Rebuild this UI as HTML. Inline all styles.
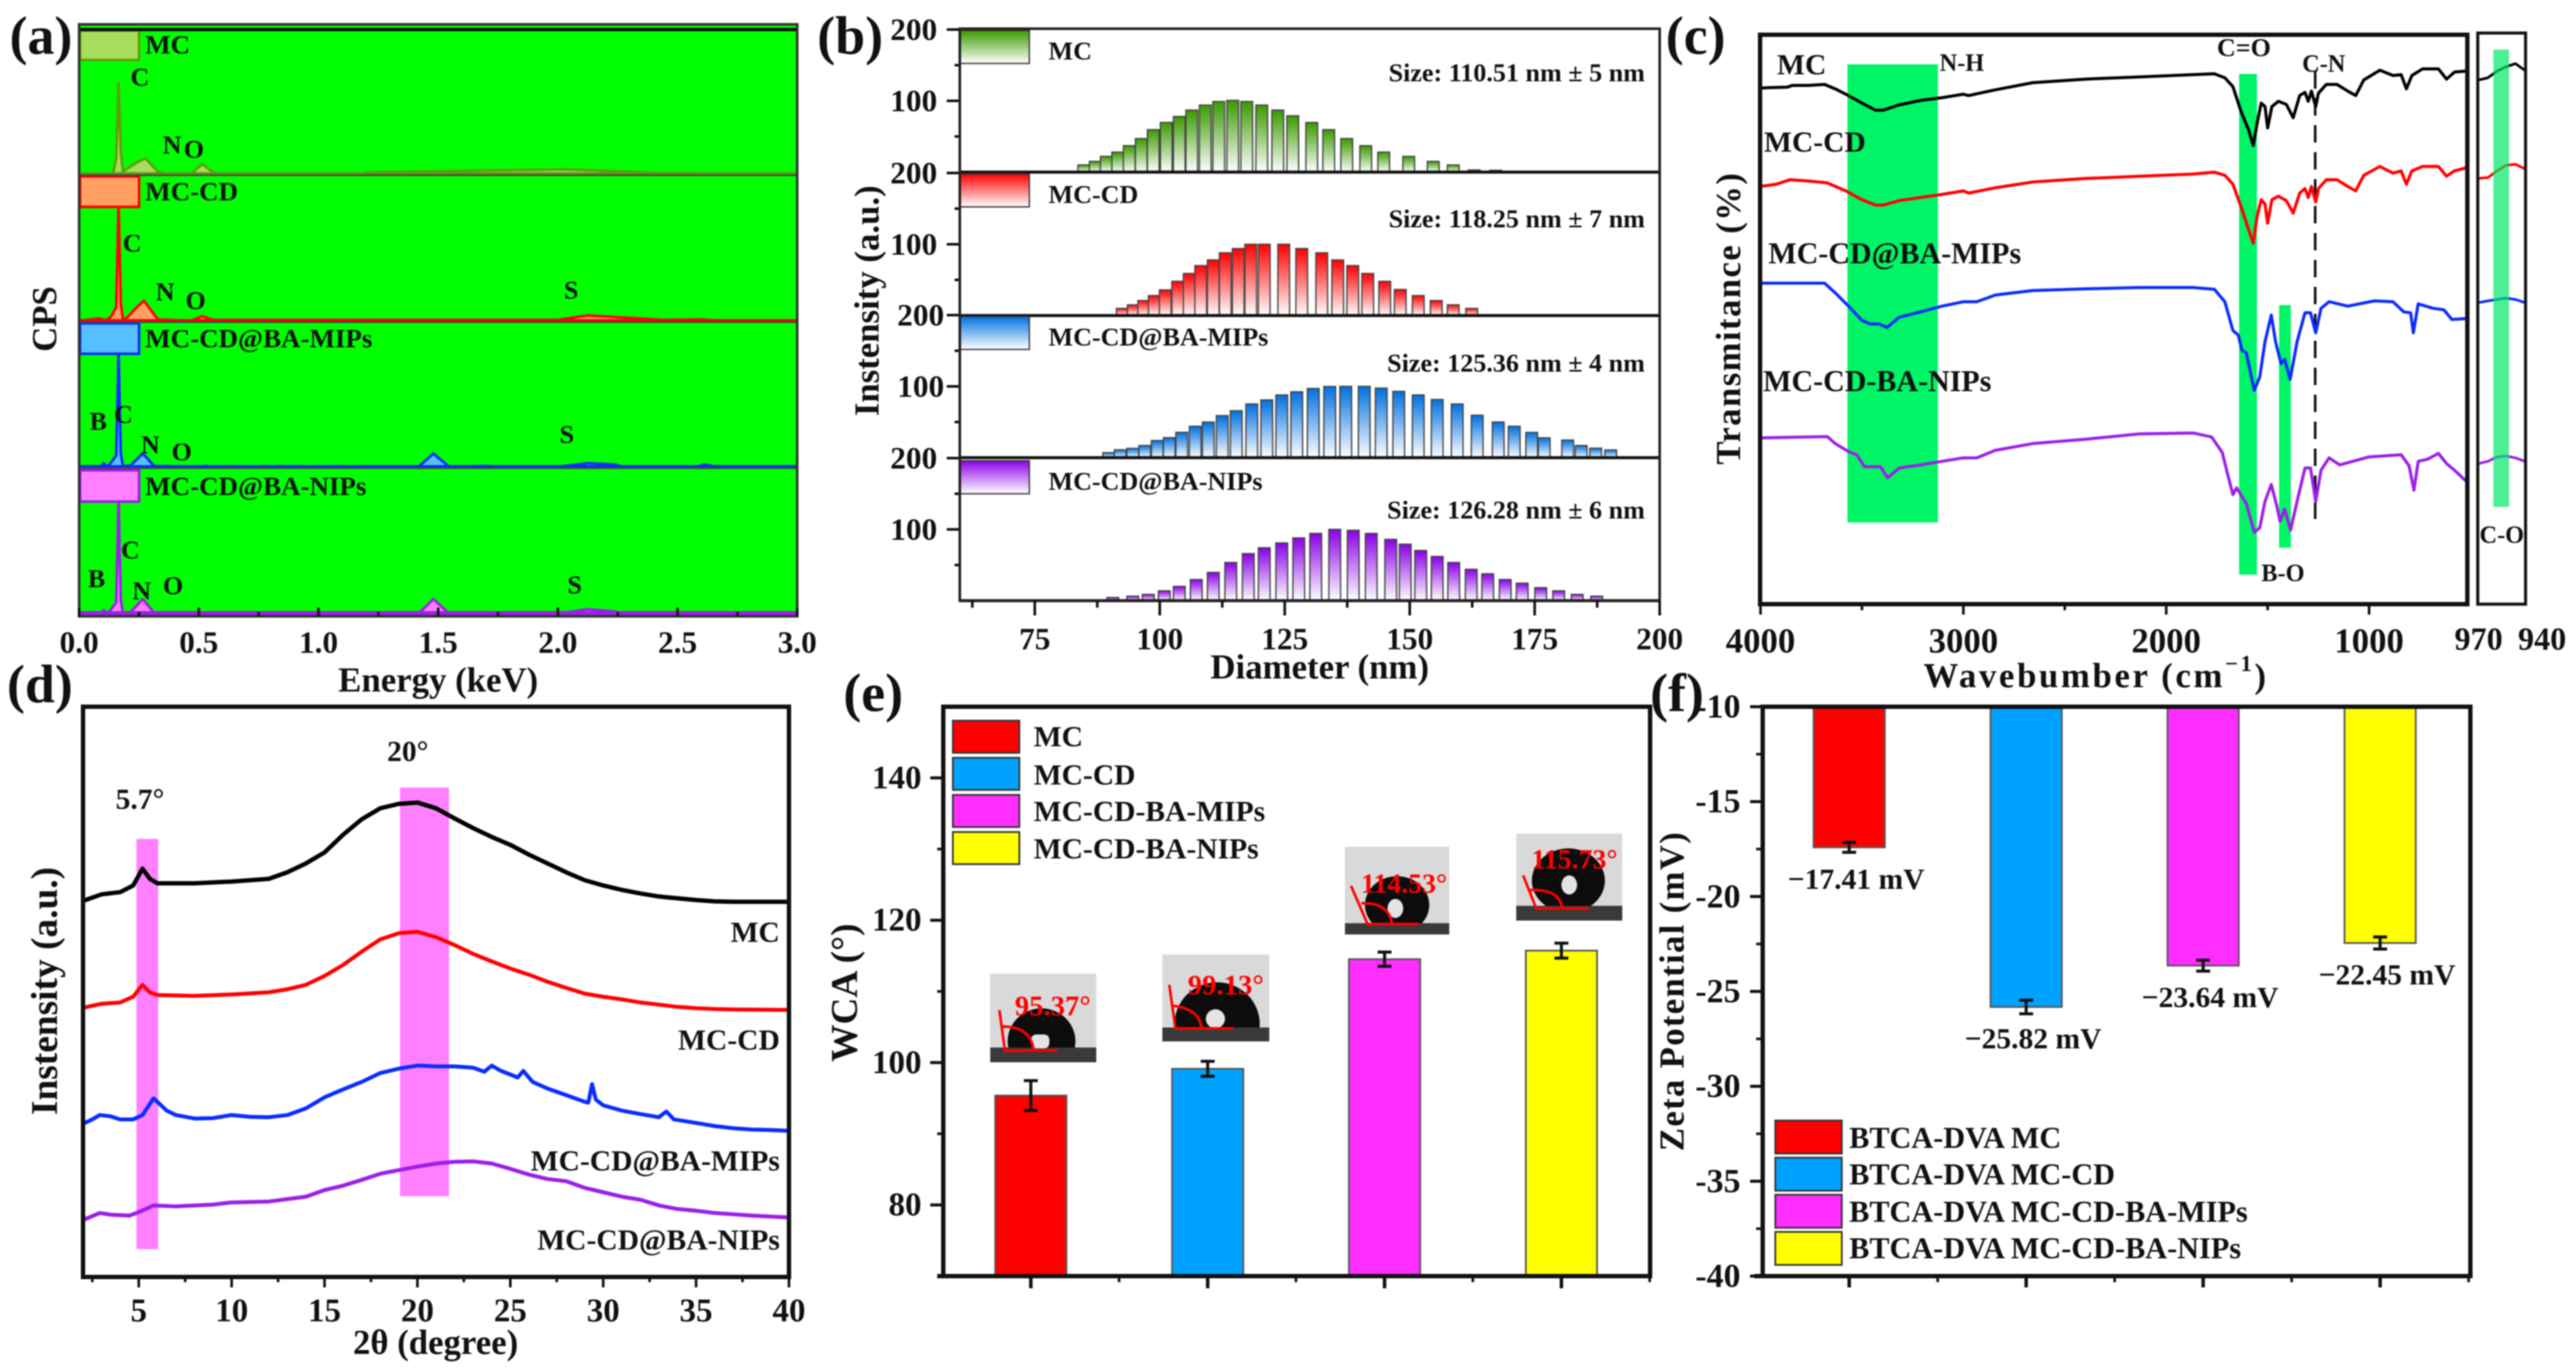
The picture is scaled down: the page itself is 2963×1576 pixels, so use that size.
<!DOCTYPE html>
<html lang="en">
<head>
<meta charset="utf-8">
<title>Six-panel characterization figure</title>
<style>
html,body{margin:0;padding:0;background:#fff;}
svg{display:block;filter:blur(0.7px);}
text{font-family:"Liberation Serif","Noto Serif CJK SC",serif;font-weight:bold;fill:#111;dominant-baseline:central;}
.pl{font-size:62px;dominant-baseline:alphabetic;}
.s28{font-size:28px}.s30{font-size:30px}.s31{font-size:31px}.s32{font-size:32px}.s34{font-size:34px}.s345{font-size:34.5px}
.t40{font-size:40px}
.r{fill:#ff0000;font-size:33px;text-anchor:middle}
.m{text-anchor:middle}
.e{text-anchor:end}
</style>
</head>
<body>
<svg id="fig" xmlns="http://www.w3.org/2000/svg" width="2963" height="1576" viewBox="0 0 2963 1576">
<defs>
<linearGradient id="gGreen" x1="0" y1="0" x2="0" y2="1"><stop offset="0" stop-color="#3a9a00"/><stop offset="1" stop-color="#ffffff"/></linearGradient>
<linearGradient id="gRed" x1="0" y1="0" x2="0" y2="1"><stop offset="0" stop-color="#ff0000"/><stop offset="1" stop-color="#ffffff"/></linearGradient>
<linearGradient id="gBlue" x1="0" y1="0" x2="0" y2="1"><stop offset="0" stop-color="#0070e0"/><stop offset="1" stop-color="#ffffff"/></linearGradient>
<linearGradient id="gPurple" x1="0" y1="0" x2="0" y2="1"><stop offset="0" stop-color="#8a00e8"/><stop offset="1" stop-color="#ffffff"/></linearGradient>
<clipPath id="clipInset1"><rect x="1139" y="1120" width="122" height="102"/></clipPath>
<clipPath id="clipInset2"><rect x="1337" y="1098" width="123" height="100"/></clipPath>
<clipPath id="clipInset3"><rect x="1547" y="974" width="120" height="101"/></clipPath>
<clipPath id="clipInset4"><rect x="1744" y="959" width="122" height="100"/></clipPath>
</defs>
<rect width="2963" height="1576" fill="#fff"/>

<g id="panelA"></g>
<g id="panelB"></g>
<g id="panelC"></g>
<g id="panelD"></g>
<g id="panelE"></g>
<g id="panelF"></g>

<!-- panel letters -->
<text class="pl" x="11" y="62">(a)</text>
<text class="pl" x="940" y="62">(b)</text>
<text class="pl" x="1916" y="62">(c)</text>
<text class="pl" x="8" y="808">(d)</text>
<text class="pl" x="970" y="818">(e)</text>
<text class="pl" x="1898" y="818">(f)</text>

<!-- panel a text -->
<text class="t40 m" transform="rotate(-90 51 367)" x="51" y="367">CPS</text>
<text class="t40 m" x="504" y="782">Energy (keV)</text>
<text class="s31" x="167" y="51">MC</text>
<text class="s31" x="167" y="220">MC-CD</text>
<text class="s31" x="167" y="389">MC-CD@BA-MIPs</text>
<text class="s31" x="167" y="559">MC-CD@BA-NIPs</text>
<text class="s30 m" x="161" y="89">C</text>
<text class="s30 m" x="198" y="167">N</text>
<text class="s30 m" x="223" y="172">O</text>
<text class="s30 m" x="152" y="280">C</text>
<text class="s30 m" x="190" y="336">N</text>
<text class="s30 m" x="225" y="346">O</text>
<text class="s30 m" x="657" y="334">S</text>
<text class="s30 m" x="113" y="485">B</text>
<text class="s30 m" x="142" y="477">C</text>
<text class="s30 m" x="173" y="512">N</text>
<text class="s30 m" x="209" y="520">O</text>
<text class="s30 m" x="652" y="500">S</text>
<text class="s30 m" x="111" y="666">B</text>
<text class="s30 m" x="150" y="633">C</text>
<text class="s30 m" x="163" y="680">N</text>
<text class="s30 m" x="199" y="674">O</text>
<text class="s30 m" x="661" y="673">S</text>

<!-- panel b text -->
<text class="t40 m" transform="rotate(-90 997 346)" x="997" y="346">Instensity (a.u.)</text>
<text class="t40 m" x="1518" y="767">Diameter (nm)</text>
<text class="s30" x="1206" y="59">MC</text>
<text class="s30" x="1206" y="224">MC-CD</text>
<text class="s30" x="1206" y="388">MC-CD@BA-MIPs</text>
<text class="s30" x="1206" y="554">MC-CD@BA-NIPs</text>
<text class="s30 e" x="1892" y="84">Size: 110.51 nm ± 5 nm</text>
<text class="s30 e" x="1892" y="252">Size: 118.25 nm ± 7 nm</text>
<text class="s30 e" x="1892" y="418">Size: 125.36 nm ± 4 nm</text>
<text class="s30 e" x="1892" y="587">Size: 126.28 nm ± 6 nm</text>

<!-- panel c text -->
<text class="t40 m" transform="rotate(-90 1988 366)" x="1988" y="366" style="letter-spacing:1.6px">Transmitance (%)</text>
<text class="t40 m" x="2411" y="777" style="letter-spacing:3px">Wavebumber (cm<tspan dy="-14" font-size="26">−1</tspan><tspan dy="14">)</tspan></text>
<text class="s34" x="2044" y="75">MC</text>
<text class="s34" x="2029" y="164">MC-CD</text>
<text class="s345" x="2034" y="292">MC-CD@BA-MIPs</text>
<text class="s345" x="2028" y="439">MC-CD-BA-NIPs</text>
<text class="s28" x="2231" y="73">N-H</text>
<text class="s30" x="2550" y="55">C=O</text>
<text class="s28" x="2648" y="74">C-N</text>
<text class="s28" x="2601" y="660">B-O</text>
<text class="s28" x="2852" y="616">C-O</text>

<!-- panel d text -->
<text class="m" font-size="43" transform="rotate(-90 52 1140)" x="52" y="1140">Instensity (a.u.)</text>
<text class="t40 m" x="501" y="1544">2θ (degree)</text>
<text class="s34 m" x="161" y="920">5.7°</text>
<text class="s34 m" x="469" y="865">20°</text>
<text class="s34 e" x="897" y="1073">MC</text>
<text class="s34 e" x="897" y="1197">MC-CD</text>
<text class="s34 e" x="897" y="1336">MC-CD@BA-MIPs</text>
<text class="s34 e" x="897" y="1427">MC-CD@BA-NIPs</text>

<!-- panel e text -->
<text class="m" font-size="43" transform="rotate(-90 972 1142)" x="972" y="1142">WCA (°)</text>
<text class="s34" x="1189" y="848">MC</text>
<text class="s34" x="1189" y="892">MC-CD</text>
<text class="s34" x="1189" y="934">MC-CD-BA-MIPs</text>
<text class="s34" x="1189" y="977">MC-CD-BA-NIPs</text>

<!-- contact angle insets -->
<g>
<rect x="1139" y="1120" width="122" height="102" fill="#d9d9d9"/>
<ellipse cx="1198" cy="1198" rx="39" ry="38" fill="#0c0c0c" clip-path="url(#clipInset1)"/>
<rect x="1139" y="1205" width="122" height="17" fill="#3a3a3a"/>
<rect x="1186" y="1190" width="21" height="16" rx="6" fill="#e4e4e4"/>
<path d="M1149.500 1162 L1156 1209 L1216 1208 M1152 1181 Q1186 1180 1189 1209" fill="none" stroke="#ff0000" stroke-width="3"/>
<text class="r" x="1211" y="1158">95.37°</text>
</g>
<g>
<rect x="1337" y="1098" width="123" height="100" fill="#d9d9d9"/>
<ellipse cx="1400" cy="1178" rx="49" ry="48" fill="#0c0c0c" clip-path="url(#clipInset2)"/>
<rect x="1337" y="1182" width="123" height="16" fill="#3a3a3a"/>
<ellipse cx="1398" cy="1172" rx="11" ry="11" fill="#e4e4e4"/>
<path d="M1345 1133 L1352 1183 L1419 1183 M1348 1157 Q1380 1160 1382 1183" fill="none" stroke="#ff0000" stroke-width="3"/>
<text class="r" x="1410" y="1134">99.13°</text>
</g>
<g>
<rect x="1547" y="974" width="120" height="101" fill="#d9d9d9"/>
<ellipse cx="1607" cy="1041" rx="37" ry="33" fill="#0c0c0c" clip-path="url(#clipInset3)"/>
<rect x="1547" y="1062" width="120" height="13" fill="#3a3a3a"/>
<ellipse cx="1605" cy="1045" rx="9" ry="11" fill="#e4e4e4"/>
<path d="M1554 1019 L1573 1063 L1632 1063 M1566 1039 Q1598 1038 1601 1063" fill="none" stroke="#ff0000" stroke-width="3"/>
<text class="r" x="1615" y="1016" style="font-size:32px">114.53°</text>
</g>
<g>
<rect x="1744" y="959" width="122" height="100" fill="#d9d9d9"/>
<ellipse cx="1804" cy="1013" rx="42" ry="37" fill="#0c0c0c" clip-path="url(#clipInset4)"/>
<rect x="1744" y="1042" width="122" height="17" fill="#3a3a3a"/>
<ellipse cx="1805" cy="1018" rx="9" ry="11" fill="#e4e4e4"/>
<path d="M1752 1007 L1767 1045 L1828 1045 M1759 1024 Q1794 1022 1797 1045" fill="none" stroke="#ff0000" stroke-width="3"/>
<text class="r" x="1811" y="988" style="font-size:32px">115.73°</text>
</g>

<!-- panel f text -->
<text class="t40 m" transform="rotate(-90 1923 1140)" x="1923" y="1140" style="letter-spacing:1.5px">Zeta Potential (mV)</text>
<text x="2127" y="1309" style="font-size:34.8px">BTCA-DVA MC</text>
<text x="2127" y="1351" style="font-size:34.8px">BTCA-DVA MC-CD</text>
<text x="2127" y="1394" style="font-size:34.8px">BTCA-DVA MC-CD-BA-MIPs</text>
<text x="2127" y="1436" style="font-size:34.8px">BTCA-DVA MC-CD-BA-NIPs</text>
</svg>

<script>
/* ---------- panel a: EDS spectra ---------- */
const edsEnergyMC=[0,.132,.144,.155,.165,.174,.183,.202,.24,.276,.329,.364,.468,.514,.561,.595,1.175,1.2,1.638,2.032,2.287,2.4,3.0];
const edsCountsMC=[0,0,5,35,204,50,5,12,25,35,5,0,0,22,3,0,0,3,7,10,5,2,0];
const edsEnergyCD=[0,.086,.11,.132,.155,.165,.174,.183,.197,.24,.271,.329,.468,.514,.561,1.149,2.0,2.125,2.44,2.6,2.65,3];
const edsCountsCD=[0,5,1,8,30,258,40,4,5,30,45,3,0,10,2,2,2,12,2,3,1,0];
const edsEnergyMIP=[0,.09,.102,.12,.155,.165,.174,.183,.213,.266,.313,.5,.528,.56,1.418,1.48,1.546,1.7,1.75,2.0,2.125,2.24,2.27,2.58,2.61,2.66,3];
const edsCountsMIP=[0,0,8,0,25,258,30,2,2,30,2,0,2,0,0,30,0,2,0,0,8,5,0,0,5,0,0];
const edsCountsNIP=[0,0,8,0,25,255,30,2,2,33,2,0,1,0,0,33,0,0,0,0,10,5,0,0,4,0,0];
const edsTicks=[0,0.5,1.0,1.5,2.0,2.5,3.0];
const edsTickLabels=["0.0","0.5","1.0","1.5","2.0","2.5","3.0"];
const edsMinorTicks=[0.25,0.75,1.25,1.75,2.25,2.75];

/* ---------- panel b: size distributions ---------- */
const sizeDiameterMC=[84.8,87.1,89.3,91.6,93.9,96.3,98.7,101.3,103.9,106.4,109.1,111.8,114.6,117.4,120.4,123.6,126.6,130.4,133.8,137.4,141.2,144.8,149.8,154.7,158.7,162.9,167.2];
const sizeValueMC=[10,15,22,28,37,47,59.5,69.6,78,87,94,99,100.6,99,94,87,79,69.6,59.5,47,37,28,22,15,10,3,2.5];
const sizeDiameterCD=[92.5,94.7,96.8,98.9,101.1,103.6,105.9,108.2,110.7,113.1,115.7,118.2,120.9,124.8,128.4,132.4,135.6,138.6,141.6,145.0,148.1,151.7,155.3,158.7,162.4];
const sizeValueCD=[10,15,21,28,36,48,59,70,78,88,94,100,100,100,94,88,78,70,59,48,36.5,28,21,15,10];
const sizeDiameterMIP=[89.8,92.1,94.6,97.0,99.5,101.9,104.4,107.1,109.7,112.5,115.3,118.4,121.4,124.4,127.4,130.7,134.0,137.2,140.9,144.3,147.8,151.7,155.5,159.5,163.5,167.7,170.9,174.4,176.9,181.6,184.3,187.2,190.2];
const sizeValueMIP=[7,11,13,17,24,28,35.5,44,50,59,65.8,75.3,81,88,92.4,97,99.8,100,100,97.5,93,88,81.6,75.3,59.5,50,44,35.4,27.8,24.7,17,13.3,10.8];
const sizeDiameterNIP=[90.6,94.6,97.7,100.9,103.9,107.3,110.7,114.2,117.7,120.9,124.4,127.8,131.2,135.0,138.7,142.3,146.2,149.1,152.2,155.5,158.8,162.3,165.6,169.1,172.5,176.2,179.8,183.5,187.4];
const sizeValueNIP=[4.4,6.3,8.8,13.8,20,29.6,39.6,53.5,66,74.2,81,88,94.3,100,98.7,94.3,86,79.2,70.4,62,53.5,44,37.7,29.6,24.5,18.2,13.8,8.8,6.3];
const sizeXTicks=[75,100,125,150,175,200];
const sizeXMinor=[62.5,87.5,112.5,137.5,162.5,187.5];
const sizeYTicks=[200,100];
const sizeYMinor=[150,50];

/* ---------- panel c: FTIR ---------- */
const ftirWaveMC=[4000,3868,3842,3763,3684,3632,3579,3500,3434,3395,3316,3211,3105,3000,2974,2842,2658,2395,2132,1868,1763,1711,1671,1632,1592,1571,1553,1532,1513,1500,1479,1447,1408,1374,1342,1316,1300,1284,1263,1250,1211,1158,1105,1066,1026,947,882,842,816,789,737,658,618,579,521];
const ftirValueMC=[1164,1166,1170,1170,1172,1162,1150,1130,1114,1114,1126,1136,1142,1150,1147,1160,1176,1184,1189,1194,1196,1187,1167,1112,1067,1034,1082,1130,1122,1074,1122,1134,1127,1097,1147,1154,1134,1157,1122,1152,1172,1172,1157,1147,1182,1204,1192,1194,1162,1192,1207,1207,1184,1200,1202];
const ftirWaveCD=[4000,3921,3855,3763,3671,3579,3500,3434,3395,3316,3211,3105,3000,2974,2842,2658,2395,2132,1868,1763,1711,1671,1632,1592,1571,1553,1532,1513,1500,1479,1447,1408,1374,1342,1316,1300,1284,1263,1250,1211,1158,1105,1066,1026,947,882,842,816,789,737,658,618,579,521];
const ftirValueCD=[942,947,957,954,950,932,912,900,900,910,917,924,932,927,939,952,960,965,970,974,967,947,897,842,814,872,912,902,859,912,920,910,882,927,937,917,942,907,937,957,957,942,932,967,987,972,977,947,977,987,987,965,977,984];
const ftirWaveMIP=[4000,3684,3632,3566,3500,3461,3416,3376,3316,3211,3105,3000,2934,2842,2658,2395,2132,1868,1763,1711,1671,1645,1626,1605,1566,1539,1513,1482,1461,1434,1416,1389,1355,1316,1289,1263,1237,1197,1105,974,882,829,795,782,758,684,632,592,521];
const ftirValueMIP=[724,724,702,672,640,632,632,624,647,659,672,682,682,697,707,711,714,714,710,682,617,607,572,567,482,512,592,652,592,542,552,507,592,657,657,612,667,682,672,684,682,659,657,612,677,667,664,642,644];
const ftirWaveNIP=[4000,3671,3632,3566,3526,3487,3408,3374,3316,3211,3105,3000,2934,2842,2658,2395,2132,1868,1776,1724,1697,1671,1653,1626,1605,1566,1539,1513,1482,1455,1439,1416,1387,1355,1316,1289,1263,1237,1197,1145,1000,842,803,779,758,711,658,618,579,521];
const ftirValueNIP=[375,378,362,344,337,310,310,285,307,314,322,330,330,347,362,372,384,386,377,342,292,247,262,242,227,162,172,232,270,222,187,214,167,232,307,307,232,302,330,314,332,337,312,257,322,327,340,317,302,277];
const ftirTicks=[4000,3000,2000,1000];
const ftirMinor=[3500,2500,1500];
const boxWave=[970,964,958,952,946,940];
const boxValueMC=[1182,1187,1202,1212,1219,1204];
const boxValueCD=[960,962,977,990,992,982];
const boxValueMIP=[680,684,687,690,687,680];
const boxValueNIP=[317,322,332,334,330,322];

/* ---------- panel d: XRD ---------- */
const xrdAngleMC=[2,3,4,4.7,5.2,5.6,6,8,10,12,13,14,15,16,17,18,19,20,21,22,23,24,25,26,27,28,29,30,31,32,33,34,35,36,37,40];
const xrdValueMC=[852,867,872,887,925,902,892,892,896,902,917,937,962,1002,1037,1062,1072,1075,1062,1039,1017,997,979,957,937,917,899,887,877,869,862,858,854,851,850,850];
const xrdValueCD=[610,619,622,635,662,645,639,637,640,645,652,662,682,707,737,765,779,782,770,752,732,715,699,685,669,655,642,635,629,622,617,612,609,607,606,605];
const xrdAngleMIP=[2,2.5,2.9,3.5,4,4.7,5.2,5.8,6.5,7,8,9,10,11,12,13,14,15,16,17,18,19,20,21,22,23,23.6,24,24.5,25.4,25.7,26.2,27,28,29,29.2,29.4,29.6,30,31,32,33,33.4,33.8,35,36,37,38,39,40];
const xrdValueMIP=[347,357,367,364,357,357,367,405,377,367,359,360,367,363,362,367,382,407,425,442,462,472,479,477,477,474,465,479,467,452,467,442,427,412,397,395,437,402,389,377,369,362,375,357,349,342,337,334,333,331];
const xrdAngleNIP=[2,2.9,3.5,4.5,5,5.8,7,9,10,12,14,15,16,17,18,19,20,21,22,23,24,25,26,27,28,29,30,31,32,33,34,35,36,38,40];
const xrdValueNIP=[129,145,141,139,147,162,160,164,169,171,182,197,207,220,234,242,250,257,261,262,257,245,232,222,217,202,192,182,175,162,154,150,145,139,135];
const xrdTicks=[5,10,15,20,25,30,35,40];
const xrdMinor=[2.5,7.5,12.5,17.5,22.5,27.5,32.5,37.5];

/* ---------- panel e: water contact angle ---------- */
const wcaCategories=["MC","MC-CD","MC-CD-BA-MIPs","MC-CD-BA-NIPs"];
const wcaValues=[95.37,99.13,114.53,115.73];
const wcaErrors=[2.1,1.05,1,1.05];
const wcaTicks=[80,100,120,140];
const wcaMinor=[90,110,130];

/* ---------- panel f: zeta potential ---------- */
const zetaCategories=["BTCA-DVA MC","BTCA-DVA MC-CD","BTCA-DVA MC-CD-BA-MIPs","BTCA-DVA MC-CD-BA-NIPs"];
const zetaValues=[-17.41,-25.82,-23.64,-22.45];
const zetaErrors=[0.26,0.36,0.29,0.32];
const zetaTicks=[-10,-15,-20,-25,-30,-35,-40];
const zetaMinor=[-12.5,-17.5,-22.5,-27.5,-32.5,-37.5];

const barColors=["#ff0000","#00a2ff","#ff2dff","#ffff00"];
const NS="http://www.w3.org/2000/svg";

function linear(d0,d1,r0,r1){return v=>r0+(v-d0)/(d1-d0)*(r1-r0);}
function mk(tag,attrs,parent){
  const el=document.createElementNS(NS,tag);
  for(const k in attrs){el.setAttribute(k,attrs[k]);}
  parent.appendChild(el);
  return el;
}
function named(el,name){
  
  
  return el;
}
function tick(parent,x1,y1,x2,y2,w,name){
  return named(mk('line',{x1:x1,y1:y1,x2:x2,y2:y2,stroke:'#111','stroke-width':w},parent),name);
}
function label(parent,x,y,str,anchor,size,name){
  const t=mk('text',{x:x,y:y,'text-anchor':anchor,'font-size':size},parent);
  t.textContent=str;
  return named(t,name);
}
function box(parent,x,y,w,h,fill,stroke,sw,name){
  return named(mk('rect',{x:x,y:y,width:w,height:h,fill:fill,stroke:stroke,'stroke-width':sw},parent),name);
}
function pathOf(xs,ys,sx,sy){
  return xs.map((v,i)=>(i?'L':'M')+sx(v).toFixed(1)+' '+sy(ys[i]).toFixed(1)).join(' ');
}

/* ===== panel a ===== */
(function(){
  const g=document.getElementById('panelA');
  const sx=linear(0,3,91,917);
  box(g,91,28,826,681,'#00ff00','none',0,'plot-background-a');
  const series=[
    {n:'mc',e:edsEnergyMC,c:edsCountsMC,base:200,line:'#5f9e0a',fill:'#a6dd5c',ly:35,lh:34,bw:4},
    {n:'mc-cd',e:edsEnergyCD,c:edsCountsCD,base:369,line:'#ff0000',fill:'#ffa060',ly:203,lh:35,bw:4},
    {n:'mips',e:edsEnergyMIP,c:edsCountsMIP,base:537,line:'#0a2cff',fill:'#55c0ff',ly:372,lh:35,bw:4},
    {n:'nips',e:edsEnergyMIP,c:edsCountsNIP,base:706,line:'#9b1fe8',fill:'#ff80ff',ly:541,lh:36,bw:6}
  ];
  series.forEach(s=>{
    const sy=linear(0,330,s.base,s.base-168.4);
    const d=pathOf(s.e,s.c,sx,sy);
    named(mk('path',{d:d+' Z',fill:s.fill,stroke:s.line,'stroke-width':3,'stroke-linejoin':'round'},g),'eds-spectrum-'+s.n);
    tick(g,91,s.base,917,s.base,s.bw,'eds-baseline-'+s.n).setAttribute('stroke',s.line);
  });
  series.forEach(s=>{
    box(g,92,s.ly,68,s.lh,s.fill,s.line,3,'legend-swatch-'+s.n);
  });
  tick(g,91,28,917,28,2,'top-edge-a').setAttribute('stroke','#555');
  tick(g,91,34,917,34,4,'top-axis-a');
  tick(g,91,201.500,917,201.500,2,'divider-a').setAttribute('stroke','#444');
  tick(g,91,370.500,917,370.500,2,'divider-a').setAttribute('stroke','#444');
  tick(g,91,538.500,917,538.500,2,'divider-a').setAttribute('stroke','#444');
  box(g,91,28,826,681,'none','#333',3,'plot-frame-a');
  edsTicks.forEach((v,i)=>{
    tick(g,sx(v),709,sx(v),699,3,'x-tick-a');
    label(g,sx(v),739,edsTickLabels[i],'middle',36,'x-tick-label-a');
  });
  edsMinorTicks.forEach(v=>tick(g,sx(v),709,sx(v),704,3,'x-minor-tick-a'));
})();

/* ===== panel b ===== */
(function(){
  const g=document.getElementById('panelB');
  const sx=linear(60,200,1104,1909);
  const barW=2.35;
  const panels=[
    {n:'mc',d:sizeDiameterMC,v:sizeValueMC,base:198,fill:'url(#gGreen)',ly:35,rt:1078},
    {n:'mc-cd',d:sizeDiameterCD,v:sizeValueCD,base:363,fill:'url(#gRed)',ly:200,rt:1078},
    {n:'mips',d:sizeDiameterMIP,v:sizeValueMIP,base:526.500,fill:'url(#gBlue)',ly:364,rt:1086},
    {n:'nips',d:sizeDiameterNIP,v:sizeValueNIP,base:691,fill:'url(#gPurple)',ly:530,rt:1078}
  ];
  panels.forEach(p=>{
    const sy=linear(0,200,p.base,p.base-164);
    p.d.forEach((d,i)=>{
      const x0=sx(d-barW/2), x1=sx(d+barW/2);
      box(g,x0,sy(p.v[i]),x1-x0,p.base-sy(p.v[i]),p.fill,'#444',1.500,'size-bar-'+p.n);
    });
    box(g,1104,p.ly,80,38,p.fill,'#333',1.500,'legend-swatch-'+p.n);
    sizeYTicks.forEach(v=>{
      tick(g,1089,sy(v),1104,sy(v),3,'y-tick-b');
      label(g,p.rt,sy(v),String(v),'end',36,'y-tick-label-b');
    });
    sizeYMinor.forEach(v=>tick(g,1098,sy(v),1104,sy(v),3,'y-minor-tick-b'));
    tick(g,1104,p.base,1909,p.base,3.500,'panel-baseline-b');
  });
  box(g,1104,33,805,658,'none','#222',3,'plot-frame-b');
  sizeXTicks.forEach(v=>{
    tick(g,sx(v),691,sx(v),708,3,'x-tick-b');
    label(g,sx(v),735,String(v),'middle',36,'x-tick-label-b');
  });
  sizeXMinor.forEach(v=>tick(g,sx(v),691,sx(v),699,3,'x-minor-tick-b'));
})();

/* ===== panel c ===== */
(function(){
  const g=document.getElementById('panelC');
  const sx=linear(4000,1000,2025,2725);
  const sy=linear(0,1284,695,40);
  const sb=linear(970,940,2851,2904);
  box(g,2125,74,104,527,'#00f566','none',0,'band-n-h');
  box(g,2575.500,85,20.500,576,'#00f566','none',0,'band-c-o-carbonyl');
  box(g,2621.500,351,13.500,279,'#00f566','none',0,'band-b-o');
  const dash=tick(g,2663,82,2663,597,3,'c-n-reference-line');
  dash.setAttribute('stroke-dasharray','20 11');
  const lines=[
    {n:'mc',w:ftirWaveMC,v:ftirValueMC,b:boxValueMC,c:'#000000'},
    {n:'mc-cd',w:ftirWaveCD,v:ftirValueCD,b:boxValueCD,c:'#ff0000'},
    {n:'mips',w:ftirWaveMIP,v:ftirValueMIP,b:boxValueMIP,c:'#0a2cff'},
    {n:'nips',w:ftirWaveNIP,v:ftirValueNIP,b:boxValueNIP,c:'#9b1fe8'}
  ];
  lines.forEach(l=>{
    named(mk('path',{d:pathOf(l.w,l.v,sx,sy),fill:'none',stroke:l.c,'stroke-width':3.500,'stroke-linejoin':'round'},g),'ftir-line-'+l.n);
    named(mk('path',{d:pathOf(boxWave,l.b,sb,sy),fill:'none',stroke:l.c,'stroke-width':3,'stroke-linejoin':'round'},g),'ftir-inset-line-'+l.n);
  });
  box(g,2868,57,18,526,'#00e868','none',0,'band-c-o').setAttribute('fill-opacity','0.7');
  box(g,2024.500,40,813.500,655,'none','#111',5,'plot-frame-c');
  box(g,2850,38,55,657,'none','#111',3.500,'inset-frame-c');
  ftirTicks.forEach(v=>{
    tick(g,sx(v),695,sx(v),707,3,'x-tick-c');
    label(g,sx(v),737,String(v),'middle',40,'x-tick-label-c');
  });
  ftirMinor.forEach(v=>tick(g,sx(v),695,sx(v),702,3,'x-minor-tick-c'));
  boxWave.filter(v=>v===970||v===940).forEach(v=>{
    label(g,v===970?2851:2924,736,String(v),'middle',37,'inset-tick-label-c');
  });
})();

/* ===== panel d ===== */
(function(){
  const g=document.getElementById('panelD');
  const sx=linear(2,40,95.500,907.500);
  const sy=linear(0,1292,1469,813);
  box(g,157,965,25,472,'#ff80ff','none',0,'band-5-7');
  box(g,460,906,56.500,470,'#ff80ff','none',0,'band-20');
  [
    {n:'mc',x:xrdAngleMC,v:xrdValueMC,c:'#000000',w:5},
    {n:'mc-cd',x:xrdAngleMC,v:xrdValueCD,c:'#ff0000',w:4.500},
    {n:'mips',x:xrdAngleMIP,v:xrdValueMIP,c:'#0a2cff',w:4.500},
    {n:'nips',x:xrdAngleNIP,v:xrdValueNIP,c:'#9b1fe8',w:4.500}
  ].forEach(l=>{
    named(mk('path',{d:pathOf(l.x,l.v,sx,sy),fill:'none',stroke:l.c,'stroke-width':l.w,'stroke-linejoin':'round'},g),'xrd-line-'+l.n);
  });
  box(g,95.500,813,812,656,'none','#111',5,'plot-frame-d');
  xrdTicks.forEach(v=>{
    tick(g,sx(v),1469,sx(v),1481,3,'x-tick-d');
    label(g,sx(v),1508,String(v),'middle',38,'x-tick-label-d');
  });
  xrdMinor.forEach(v=>tick(g,sx(v),1469,sx(v),1475,3,'x-minor-tick-d'));
})();

/* ===== panel e ===== */
(function(){
  const g=document.getElementById('panelE');
  const sy=linear(70,150,1468,813);
  const centers=[0,1,2,3];
  const sx=linear(0,3,1185.700,1796);
  wcaValues.forEach((v,i)=>{
    const c=sx(centers[i]);
    box(g,c-41,sy(v),82,1468-sy(v),barColors[i],'#555',2,'wca-bar-'+wcaCategories[i].toLowerCase());
    tick(g,c,sy(v+wcaErrors[i]),c,sy(v-wcaErrors[i]),3.500,'wca-error-bar');
    tick(g,c-8,sy(v+wcaErrors[i]),c+8,sy(v+wcaErrors[i]),3.500,'wca-error-cap');
    tick(g,c-8,sy(v-wcaErrors[i]),c+8,sy(v-wcaErrors[i]),3.500,'wca-error-cap');
    box(g,1096,829+i*42.700,76.500,37,barColors[i],'#333',2,'legend-swatch-'+wcaCategories[i].toLowerCase());
    tick(g,c,1468,c,1482,4,'x-tick-e');
    tick(g,c+101.500,1468,c+101.500,1475,3,'x-minor-tick-e');
  });
  tick(g,1085,813,1898,813,5,'top-axis-e');
  tick(g,1085,810.500,1085,1470.500,5,'left-axis-e');
  tick(g,1898,810.500,1898,1470.500,5,'right-axis-e');
  tick(g,1078,1468,1898,1468,5,'bottom-axis-e');
  wcaTicks.forEach(v=>{
    tick(g,1070,sy(v),1085,sy(v),3.500,'y-tick-e');
    label(g,1060,sy(v),String(v),'end',38,'y-tick-label-e');
  });
  wcaMinor.forEach(v=>tick(g,1078,sy(v),1085,sy(v),3,'y-minor-tick-e'));
})();

/* ===== panel f ===== */
(function(){
  const g=document.getElementById('panelF');
  const sy=linear(-40,-10,1468,813);
  const sx=linear(0,3,2127,2737.700);
  zetaValues.forEach((v,i)=>{
    const c=sx(i);
    box(g,c-41,813,82,sy(v)-813,barColors[i],'#555',2,'zeta-bar-'+i);
    tick(g,c,sy(v+zetaErrors[i]),c,sy(v-zetaErrors[i]),3.500,'zeta-error-bar');
    tick(g,c-8,sy(v+zetaErrors[i]),c+8,sy(v+zetaErrors[i]),3.500,'zeta-error-cap');
    tick(g,c-8,sy(v-zetaErrors[i]),c+8,sy(v-zetaErrors[i]),3.500,'zeta-error-cap');
    label(g,c+8,sy(v)+37,'−'+Math.abs(v).toFixed(2)+' mV','middle',34,'zeta-value-label');
    box(g,2042,1289+i*42.700,76.500,38,barColors[i],'#333',2,'legend-swatch-'+i);
    tick(g,c,1468,c,1481,4,'x-tick-f');
    tick(g,c+101.800,1468,c+101.800,1475,3,'x-minor-tick-f');
  });
  tick(g,2027.500,813,2841.500,813,5,'top-axis-f');
  tick(g,2027.500,810.500,2027.500,1470.500,5,'left-axis-f');
  tick(g,2841.500,810.500,2841.500,1470.500,5,'right-axis-f');
  tick(g,2018,1468,2841.500,1468,5,'bottom-axis-f');
  zetaTicks.forEach(v=>{
    tick(g,2013,sy(v),2027.500,sy(v),3.500,'y-tick-f');
    label(g,2002,sy(v),String(v),'end',39,'y-tick-label-f');
  });
  zetaMinor.forEach(v=>tick(g,2020,sy(v),2027.500,sy(v),3,'y-minor-tick-f'));
})();
</script>
</body>
</html>
